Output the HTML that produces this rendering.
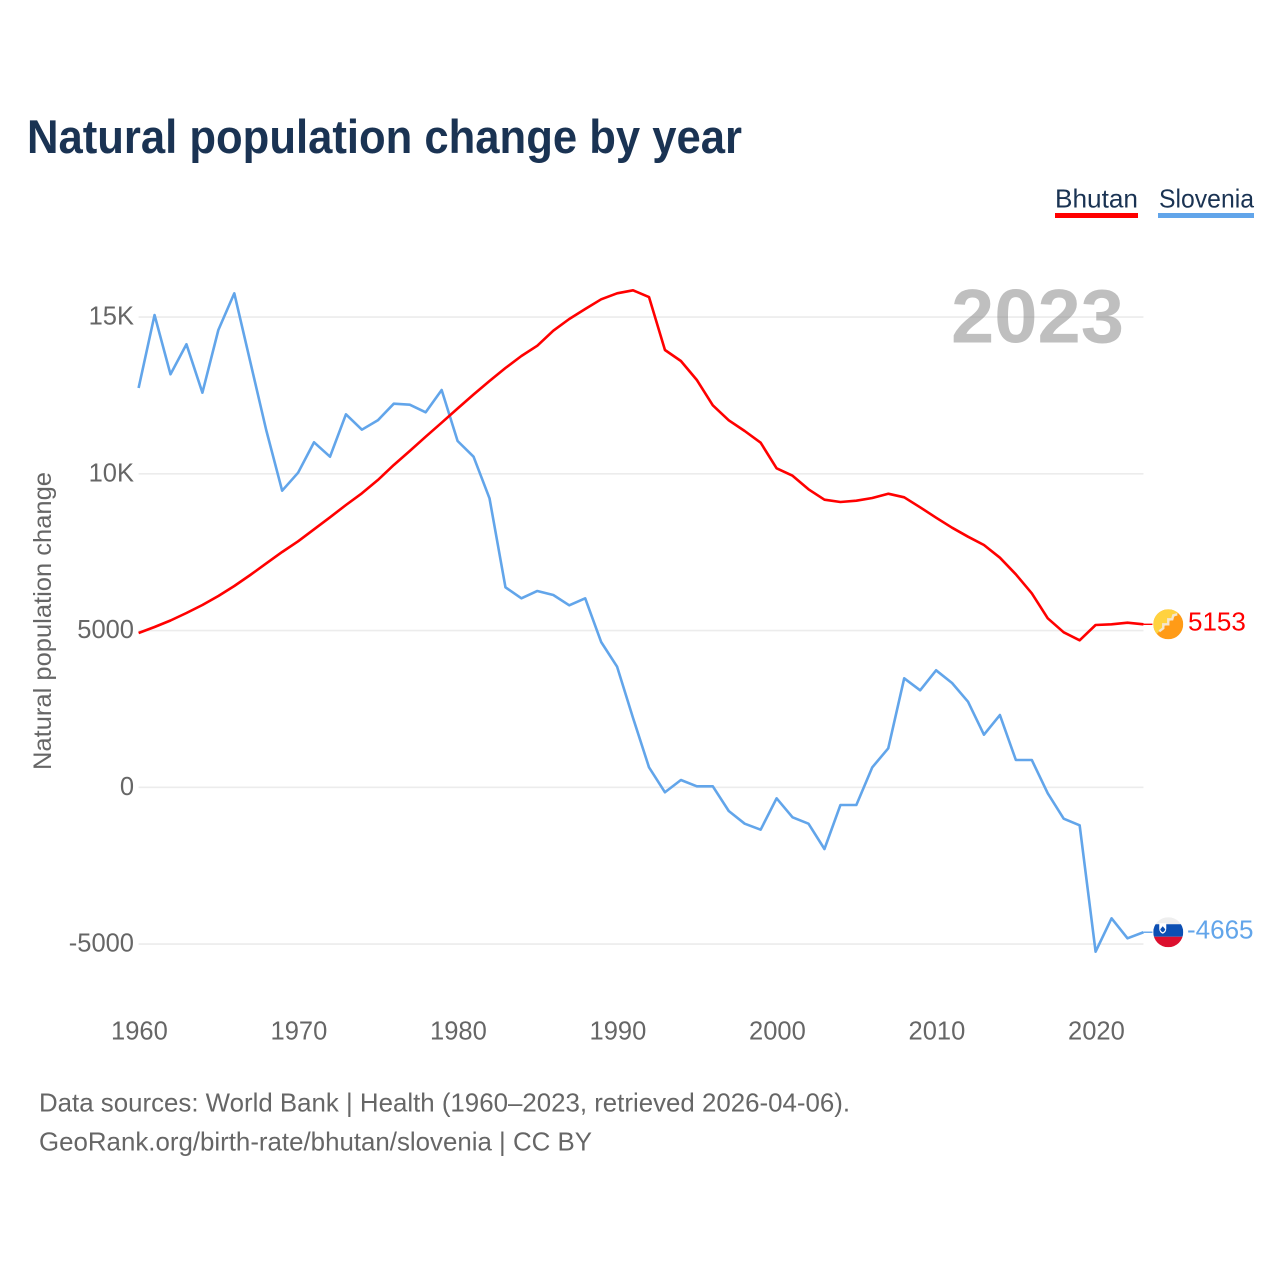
<!DOCTYPE html>
<html lang="en">
<head>
<meta charset="utf-8">
<title>Natural population change by year</title>
<style>
html,body{margin:0;padding:0;background:#fff;}
svg{display:block;}
text{font-family:"Liberation Sans",sans-serif;}
</style>
</head>
<body>
<svg id="chart" xmlns="http://www.w3.org/2000/svg" width="1280" height="1280" viewBox="0 0 1280 1280">
  <rect x="0" y="0" width="1280" height="1280" fill="#ffffff"/>
  <text x="27" y="153" font-size="47" font-weight="700" fill="#1a3353" textLength="715" lengthAdjust="spacingAndGlyphs">Natural population change by year</text>

  <g>
    <g>
      <text x="1055" y="207.5" font-size="26" fill="#1a3353" textLength="83" lengthAdjust="spacingAndGlyphs">Bhutan</text>
      <rect x="1055" y="213" width="83" height="5" fill="#ff0000"/>
    </g>
    <g>
      <text x="1159" y="207.5" font-size="26" fill="#1a3353" textLength="95" lengthAdjust="spacingAndGlyphs">Slovenia</text>
      <rect x="1158" y="213" width="96" height="5" fill="#62a5ea"/>
    </g>
  </g>

  <g id="grid"></g>
  <g id="y-ticks"></g>
  <g id="x-ticks"></g>

  <text transform="translate(51 770) rotate(-90)" x="0" y="0" font-size="25" fill="#666666" textLength="298" lengthAdjust="spacingAndGlyphs">Natural population change</text>

  <text x="951" y="342.5" font-size="76" font-weight="700" fill="#808080" fill-opacity="0.5" textLength="173" lengthAdjust="spacingAndGlyphs">2023</text>

  <g id="series"></g>

  <defs>
    <clipPath id="flag-clip"><circle cx="0" cy="0" r="15"/></clipPath>
  </defs>

  <g id="flag-bhutan">
    <g clip-path="url(#flag-clip)">
      <rect x="-15" y="-15" width="30" height="30" fill="#ff9b17"/>
      <polygon points="-15,-15 14,-15 -15,13" fill="#ffd23f"/>
      <polyline points="-9,7 -5,4 -5,0 0,0 0,-5 4,-5 5,-9 9,-10" fill="none" stroke="#f4e6d0" stroke-width="2.4"/>
    </g>
  </g>
  <g id="flag-slovenia">
    <g clip-path="url(#flag-clip)">
      <rect x="-15" y="-15" width="30" height="7" fill="#eeeeee"/>
      <rect x="-15" y="-8" width="30" height="12.5" fill="#0c4fb3"/>
      <rect x="-15" y="4.5" width="30" height="10.5" fill="#dc0f2e"/>
      <path d="M-9,-9 H-2 V-3.5 Q-2,0 -5.5,1.5 Q-9,0 -9,-3.5 Z" fill="#ffffff"/>
      <path d="M-8,-3 L-5.5,-6 L-3,-3 Q-3.5,-1 -5.5,0 Q-7.5,-1 -8,-3 Z" fill="#0c4fb3"/>
    </g>
  </g>

  <g id="end-labels"></g>

  <text x="39" y="1111.5" font-size="26" fill="#666666" textLength="811" lengthAdjust="spacingAndGlyphs">Data sources: World Bank | Health (1960–2023, retrieved 2026-04-06).</text>
  <text x="39" y="1150.5" font-size="26" fill="#666666" textLength="553" lengthAdjust="spacingAndGlyphs">GeoRank.org/birth-rate/bhutan/slovenia | CC BY</text>
</svg>

<script>
const years = [1960,1961,1962,1963,1964,1965,1966,1967,1968,1969,1970,1971,1972,1973,1974,1975,1976,1977,1978,1979,1980,1981,1982,1983,1984,1985,1986,1987,1988,1989,1990,1991,1992,1993,1994,1995,1996,1997,1998,1999,2000,2001,2002,2003,2004,2005,2006,2007,2008,2009,2010,2011,2012,2013,2014,2015,2016,2017,2018,2019,2020,2021,2022,2023];
const bhutanValues = [4922,5113,5321,5560,5815,6102,6421,6772,7139,7506,7847,8230,8612,9005,9378,9802,10281,10727,11183,11630,12083,12530,12960,13375,13757,14086,14565,14938,15257,15566,15758,15853,15639,13949,13598,12992,12185,11707,11365,10992,10175,9939,9506,9174,9100,9142,9228,9365,9250,8931,8600,8281,7994,7729,7324,6794,6188,5391,4944,4689,5177,5199,5250,5199];
const sloveniaValues = [12737,15065,13174,14131,12587,14587,15758,13576,11397,9461,10035,11005,10545,11898,11407,11707,12236,12204,11962,12673,11046,10545,9219,6380,6029,6262,6134,5805,6029,4635,3847,2211,638,-159,233,32,32,-756,-1161,-1352,-351,-957,-1161,-1968,-565,-565,638,1244,3477,3094,3732,3327,2730,1678,2306,871,871,-191,-1002,-1212,-5244,-4179,-4817,-4623];
const yTickValues = [15000,10000,5000,0,-5000];
const yTickLabels = ["15K","10K","5000","0","-5000"];
const xTickValues = [1960,1970,1980,1990,2000,2010,2020];
const xTickLabels = ["1960","1970","1980","1990","2000","2010","2020"];
const endLabelBhutan = "5153";
const endLabelSlovenia = "-4665";

const SVG_NS = "http://www.w3.org/2000/svg";
const xLeft = 138.6, xPerYear = 15.95, yZero = 787.3, yPerUnit = 0.03135;
function xScale(year){ return xLeft + (year - years[0]) * xPerYear; }
function yScale(value){ return yZero - value * yPerUnit; }
const xEnd = xScale(years[years.length - 1]);

const gridGroup = document.getElementById("grid");
const yTickGroup = document.getElementById("y-ticks");
yTickValues.forEach(function(v, i){
  const line = document.createElementNS(SVG_NS, "line");
  line.setAttribute("x1", xLeft);
  line.setAttribute("x2", xEnd);
  line.setAttribute("y1", yScale(v));
  line.setAttribute("y2", yScale(v));
  line.setAttribute("stroke", "#ececec");
  line.setAttribute("stroke-width", "1.6");
  
  
  gridGroup.appendChild(line);
  const label = document.createElementNS(SVG_NS, "text");
  label.setAttribute("x", 134);
  label.setAttribute("y", yScale(v) + 7.5);
  label.setAttribute("text-anchor", "end");
  label.setAttribute("font-size", "25.5");
  label.setAttribute("fill", "#666666");
  label.textContent = yTickLabels[i];
  
  
  yTickGroup.appendChild(label);
});

const xTickGroup = document.getElementById("x-ticks");
xTickValues.forEach(function(v, i){
  const label = document.createElementNS(SVG_NS, "text");
  label.setAttribute("x", xScale(v) + 0.8);
  label.setAttribute("y", 1039.5);
  label.setAttribute("text-anchor", "middle");
  label.setAttribute("font-size", "25.5");
  label.setAttribute("fill", "#666666");
  label.textContent = xTickLabels[i];
  
  
  xTickGroup.appendChild(label);
});

function linePoints(values){
  return values.map(function(v, i){
    return xScale(years[i]).toFixed(2) + "," + yScale(v).toFixed(2);
  }).join(" ");
}

const seriesGroup = document.getElementById("series");

const bhutanLine = document.createElementNS(SVG_NS, "polyline");
bhutanLine.setAttribute("points", linePoints(bhutanValues));
bhutanLine.setAttribute("fill", "none");
bhutanLine.setAttribute("stroke", "#ff0000");
bhutanLine.setAttribute("stroke-width", "2.6");
bhutanLine.setAttribute("stroke-linejoin", "round");



const sloveniaLine = document.createElementNS(SVG_NS, "polyline");
sloveniaLine.setAttribute("points", linePoints(sloveniaValues));
sloveniaLine.setAttribute("fill", "none");
sloveniaLine.setAttribute("stroke", "#62a5ea");
sloveniaLine.setAttribute("stroke-width", "2.6");
sloveniaLine.setAttribute("stroke-linejoin", "round");



seriesGroup.appendChild(sloveniaLine);
seriesGroup.appendChild(bhutanLine);

const bhutanEndY = yScale(bhutanValues[bhutanValues.length - 1]);
const sloveniaEndY = yScale(sloveniaValues[sloveniaValues.length - 1]);

const bhutanConnector = document.createElementNS(SVG_NS, "line");
bhutanConnector.setAttribute("x1", xEnd);
bhutanConnector.setAttribute("x2", xEnd + 9);
bhutanConnector.setAttribute("y1", bhutanEndY);
bhutanConnector.setAttribute("y2", bhutanEndY);
bhutanConnector.setAttribute("stroke", "#ff0000");
bhutanConnector.setAttribute("stroke-width", "1.4");


seriesGroup.appendChild(bhutanConnector);

const sloveniaConnector = document.createElementNS(SVG_NS, "line");
sloveniaConnector.setAttribute("x1", xEnd);
sloveniaConnector.setAttribute("x2", xEnd + 9);
sloveniaConnector.setAttribute("y1", sloveniaEndY);
sloveniaConnector.setAttribute("y2", sloveniaEndY);
sloveniaConnector.setAttribute("stroke", "#62a5ea");
sloveniaConnector.setAttribute("stroke-width", "1.4");


seriesGroup.appendChild(sloveniaConnector);

document.getElementById("flag-bhutan").setAttribute("transform", "translate(" + (xEnd + 24.8) + " " + bhutanEndY + ")");
document.getElementById("flag-slovenia").setAttribute("transform", "translate(" + (xEnd + 24.8) + " " + sloveniaEndY + ")");

const endGroup = document.getElementById("end-labels");

const bhutanEndText = document.createElementNS(SVG_NS, "text");
bhutanEndText.setAttribute("x", 1188);
bhutanEndText.setAttribute("y", bhutanEndY + 6.2);
bhutanEndText.setAttribute("font-size", "26");
bhutanEndText.setAttribute("fill", "#ff0000");
bhutanEndText.textContent = endLabelBhutan;


endGroup.appendChild(bhutanEndText);

const sloveniaEndText = document.createElementNS(SVG_NS, "text");
sloveniaEndText.setAttribute("x", 1187);
sloveniaEndText.setAttribute("y", sloveniaEndY + 6.2);
sloveniaEndText.setAttribute("font-size", "26");
sloveniaEndText.setAttribute("fill", "#62a5ea");
sloveniaEndText.textContent = endLabelSlovenia;


endGroup.appendChild(sloveniaEndText);
</script>
</body>
</html>
